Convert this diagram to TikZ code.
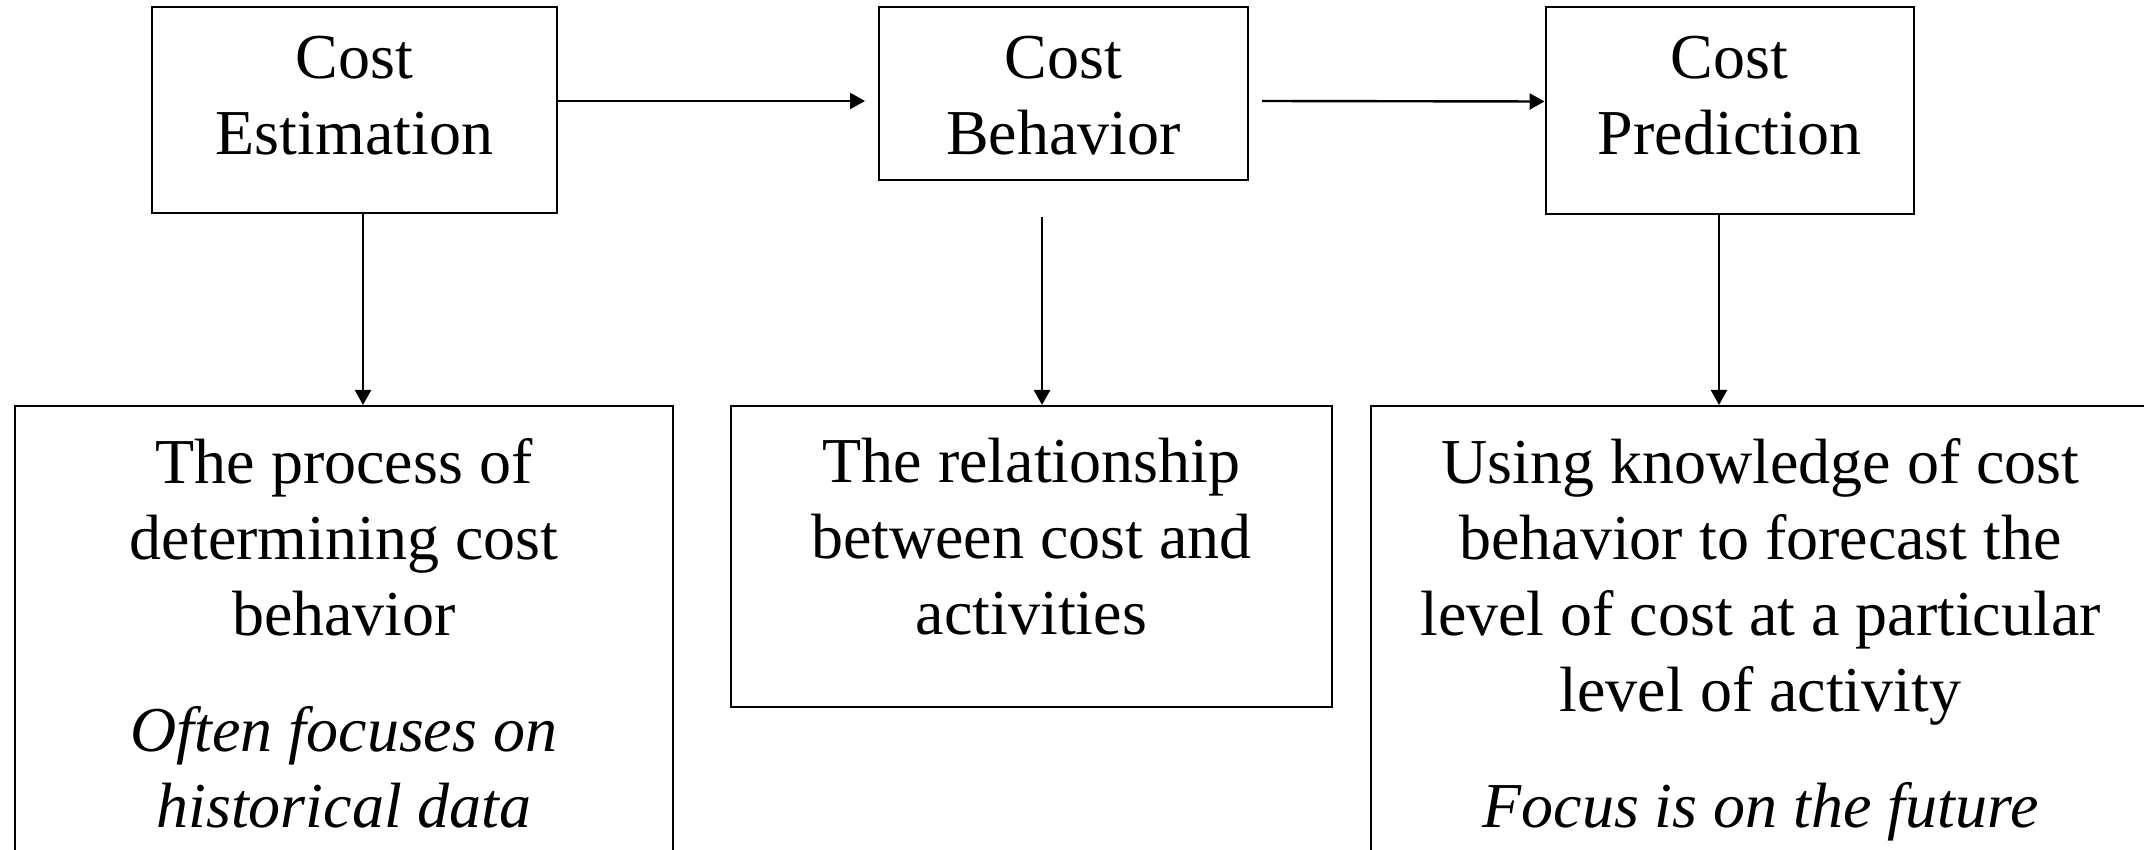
\documentclass[tikz,border=0pt]{standalone}
\usepackage{fontspec}
\setmainfont{Liberation Serif}
\usetikzlibrary{positioning,arrows.meta}

\begin{document}
\begin{tikzpicture}[x=0.5pt, y=-0.5pt,
    box/.style={draw, line width=1pt, inner sep=0pt},
    txt/.style={inner sep=0pt, align=center, font=\fontsize{32}{38}\selectfont},
    arr/.style={line width=1.2pt, -{Triangle[length=7.5pt,width=8pt]}}]
    \clip (0,0) rectangle (2144,850);
    % top row
    \node[box, minimum width=202.5pt, minimum height=103pt] (est) at (354.5,110) {};
    \node[box, minimum width=184.5pt, minimum height=86.5pt] (beh) at (1063.5,93.5) {};
    \node[box, minimum width=184pt, minimum height=103.5pt] (pred) at (1729.5,110.5) {};
    \node[txt, below=15pt of est.north] (est-t) {Cost\\Estimation};
    \node[txt, below=15pt of beh.north] (beh-t) {Cost\\Behavior};
    \node[txt, below=15pt of pred.north] (pred-t) {Cost\\Prediction};
    % bottom row
    \node[box, minimum width=329pt, minimum height=237pt] (hist) at (344,643) {};
    \node[box, minimum width=300.5pt, minimum height=150.5pt] (rel) at (1031.5,556.5) {};
    \node[box, minimum width=389.5pt, minimum height=237pt] (fut) at (1760.5,643) {};
    \node[txt, below=16.5pt of hist.north] (hist-t) {The process of\\determining cost\\behavior\\[20pt]\textit{Often focuses on}\\\textit{historical data}};
    \node[txt, below=16.5pt of rel.north] (rel-t) {The relationship\\between cost and\\activities};
    \node[txt, below=16.5pt of fut.north] (fut-t) {Using knowledge of cost\\behavior to forecast the\\level of cost at a particular\\level of activity\\[20pt]\textit{Focus is on the future}};
    % arrows
    \coordinate (d1) at ([xshift=4.25pt]est.south);
    \coordinate (d2) at ([xshift=-10.75pt,yshift=-18pt]beh.south);
    \coordinate (d3) at ([xshift=-5.25pt]pred.south);
    \path ([yshift=4.5pt]est.east) edge[arr] ([xshift=-6.5pt,yshift=-3.75pt]beh.west);
    \path ([xshift=6.5pt,yshift=-3.75pt]beh.east) edge[arr] ([yshift=4.5pt]pred.west);
    \path (d1) edge[arr] (d1 |- hist.north);
    \path (d2) edge[arr] (d2 |- rel.north);
    \path (d3) edge[arr] (d3 |- fut.north);
\end{tikzpicture}
\end{document}
